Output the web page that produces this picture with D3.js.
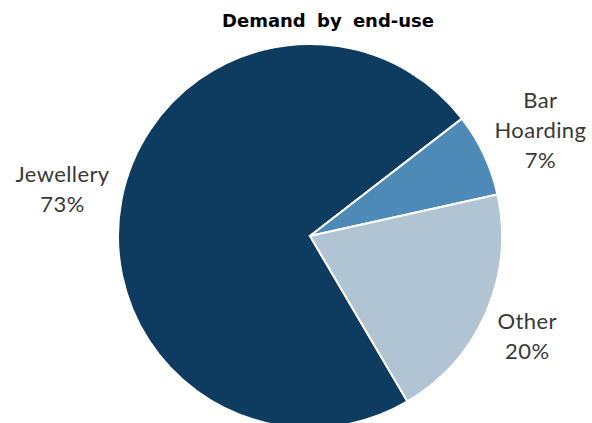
<!DOCTYPE html>
<html>
<head>
<meta charset="utf-8">
<script src="https://cdn.jsdelivr.net/npm/d3@7"></script>
<style>
  body { margin: 0; background: #fff; }
</style>
</head>
<body>
<div id="chart"></div>
<script>
// donnees du camembert
const categories = ["Jewellery", "Bar Hoarding", "Other"];
const values = [73, 7, 20];
const colors = ["#0e3b60", "#4e8ab7", "#b0c4d4"];

const width = 592, height = 423;
const cx = 310, cy = 236, radius = 192;
// debut de la premiere part (en degres, sens horaire depuis midi)
const startDeg = 149.5;

const svg = d3.select("#chart")
  .append("svg")
  .attr("width", width)
  .attr("height", height);

svg.append("text")
  .attr("x", 328)
  .attr("y", 27)
  .attr("text-anchor", "middle")
  .style("font-family", "'DejaVu Sans', sans-serif")
  .style("font-weight", "bold")
  .style("font-size", "18px")
  .style("word-spacing", "5px")
  .text("Demand by end-use");

const data = categories.map((c, i) => ({ name: c, value: values[i], color: colors[i] }));

const pie = d3.pie()
  .sort(null)
  .value(d => d.value)
  .startAngle(startDeg * Math.PI / 180)
  .endAngle(startDeg * Math.PI / 180 + 2 * Math.PI);

const arc = d3.arc().innerRadius(0).outerRadius(radius);
const labelArc = d3.arc().innerRadius(250).outerRadius(250);

const g = svg.append("g")
  .attr("transform", "translate(" + cx + "," + cy + ")");

const arcs = pie(data);

g.selectAll("path")
  .data(arcs)
  .join("path")
  .attr("d", arc)
  .style("fill", d => d.data.color)
  .style("stroke", "#fff")
  .style("stroke-width", "2px");

// petit decalage a la main pour coller au modele
const nudge = { "Jewellery": [-2, 0], "Bar Hoarding": [4, 0], "Other": [-12, 0] };

const labels = g.selectAll("text.lbl")
  .data(arcs)
  .join("text")
  .attr("class", "lbl")
  .attr("text-anchor", "middle")
  .style("font-family", "Lato, 'Open Sans', sans-serif")
  .style("font-size", "22px")
  .style("letter-spacing", "0.4px")
  .style("fill", "#383838")
  .attr("transform", d => {
    const c = labelArc.centroid(d), n = nudge[d.data.name];
    return "translate(" + (c[0] + n[0]) + "," + (c[1] + n[1]) + ")";
  });

labels.each(function (d) {
  const words = d.data.name.split(" ");
  const lines = words.concat([d.data.value + "%"]);
  const lh = 30;
  const y0 = -(lines.length - 1) * lh / 2 + 8;
  d3.select(this).selectAll("tspan")
    .data(lines)
    .join("tspan")
    .attr("x", 0)
    .attr("y", (t, i) => y0 + i * lh)
    .text(t => t);
});
</script>
</body>
</html>
